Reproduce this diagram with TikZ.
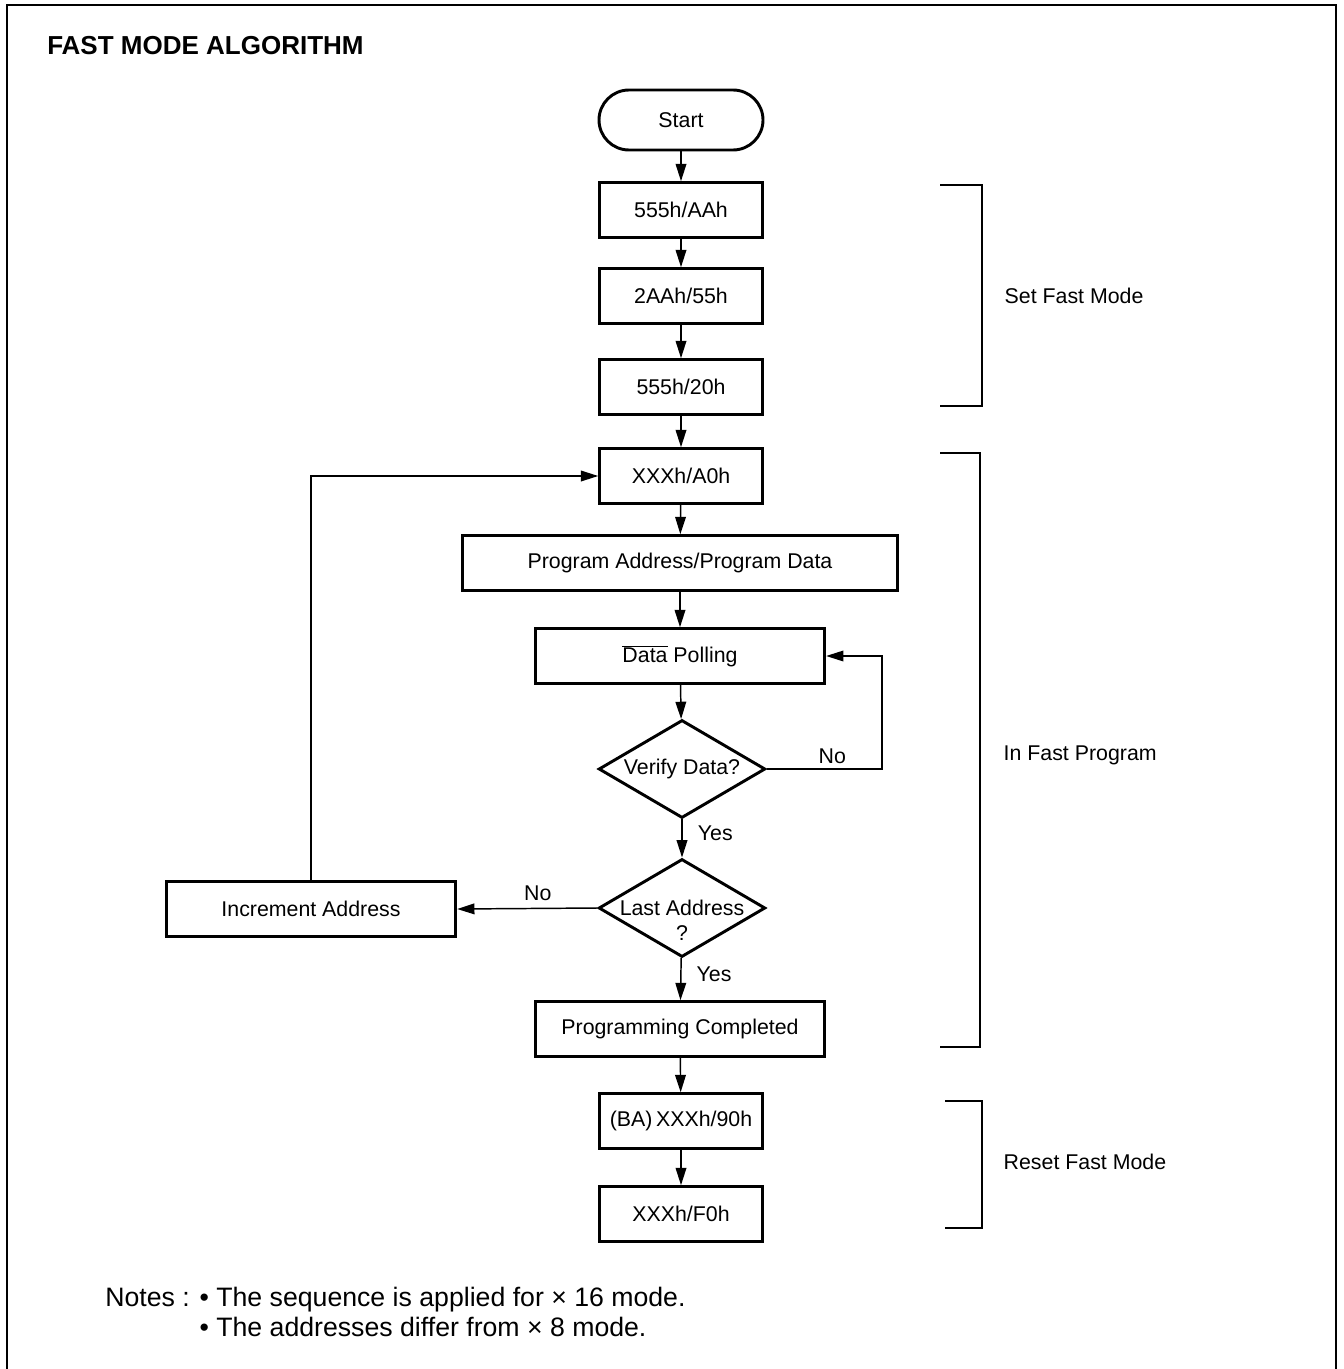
\documentclass[tikz,border=0pt]{standalone}
\usepackage{fontspec}
\setmainfont{Liberation Sans}
\usetikzlibrary{shapes.geometric,arrows.meta}
\begin{document}
\begin{tikzpicture}[x=0.75pt,y=-0.75pt,font=\fontsize{16}{19}\selectfont,
  box/.style={draw,line width=2.2pt,minimum width=122pt,minimum height=41pt,inner sep=0pt},
  wide/.style={box,minimum width=217pt},
  widest/.style={box,minimum width=326pt},
  test/.style={draw,diamond,line width=2.2pt,minimum width=125pt,minimum height=73.5pt,inner sep=0pt},
  flow/.style={line width=1.1pt,-{Triangle[length=13pt,width=8pt]}},
  brace/.style={line width=1pt}]
\useasboundingbox (0,0) rectangle (1343,1369);
\draw[line width=1.5pt] (7,1369)--(7,5)--(1336,5)--(1336,1369);
\node[anchor=base west,inner sep=0pt,font=\bfseries\fontsize{19.5}{23}\selectfont] (title) at (47,55) {FAST MODE ALGORITHM};

% main column
\node[box,rounded corners=22.5pt,minimum width=123pt,minimum height=45pt] (start) at (681,120) {Start};
\node[box] (s1) at (681,210) {555h/AAh};
\node[box] (s2) at (681,296) {2AAh/55h};
\node[box] (s3) at (681,387) {555h/20h};
\node[box] (p1) at (681,476) {XXXh/A0h};
\node[widest] (p2) at (680,563) {Program Address/Program Data};
\node[wide] (poll) at (680,656) {$\overline{\mbox{Data}}$ Polling};
\node[test,label=center:Verify Data?] (verify) at (682,769) {};
\node[test,label={[align=center,yshift=-9pt]center:Last Address\\?}] (last) at (682,908) {};
\node[wide] (done) at (680,1029) {Programming Completed};
\node[box] (r1) at (681,1121) {(BA)\,XXXh/90h};
\node[box] (r2) at (681,1214) {XXXh/F0h};
\node[wide] (inc) at (311,909) {Increment Address};

\foreach \a/\b in {start/s1,s1/s2,s2/s3,s3/p1,p1/p2,p2/poll,poll/verify,done/r1,r1/r2}
  \draw[flow] (\a) -- (\b);
\draw[flow] (verify) -- node[right,xshift=8pt,yshift=4pt]{Yes} (last);
\draw[flow] (last) -- node[right,xshift=8pt,yshift=4pt]{Yes} (done);
\draw[flow] (last.west) -- node[above,xshift=8pt,yshift=2pt]{No} (inc.east);
\draw[flow] (inc.north) |- (p1.west);
\draw[flow] (verify.east) -- node[above,xshift=6pt]{No} ++(115,0) |- (poll.east);

% brackets
\draw[brace] (940,185)--(982,185)--(982,406)--(940,406);
\node[anchor=west] (setfm) at (1000,296) {Set Fast Mode};
\draw[brace] (940,453)--(980,453)--(980,1047)--(940,1047);
\node[anchor=west] (infp) at (999,755) {In Fast Program};
\draw[brace] (945,1101)--(982,1101)--(982,1228)--(945,1228);
\node[anchor=west] (resfm) at (999,1162) {Reset Fast Mode};

\node[anchor=north west,align=left,inner sep=0pt,font=\fontsize{20}{22.5}\selectfont] (notes) at (105,1287)
  {Notes : \textbullet\ The sequence is applied for × 16 mode.\\
   \phantom{Notes : }\textbullet\ The addresses differ from × 8 mode.};
\end{tikzpicture}
\end{document}
